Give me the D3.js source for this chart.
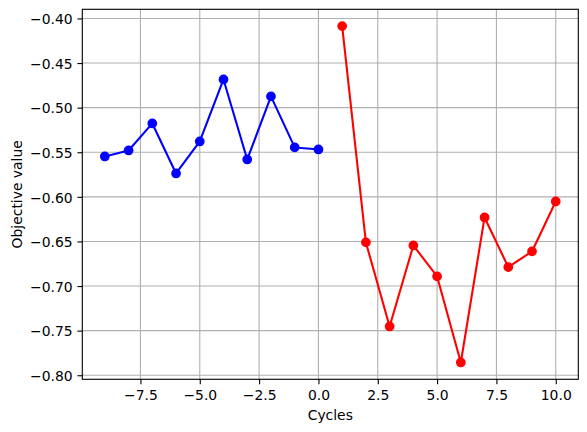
<!DOCTYPE html>
<html><head><meta charset="utf-8">
<script src="https://cdn.jsdelivr.net/npm/d3@7"></script>
<style>body{margin:0;background:#fff}svg{display:block}text{font-family:"DejaVu Sans",sans-serif;fill:#000}</style>
</head><body>
<script>
const blueX = [-9,-8,-7,-6,-5,-4,-3,-2,-1,0];
const blueY = [-0.5547,-0.548,-0.5177,-0.5738,-0.5379,-0.4684,-0.5581,-0.4874,-0.5446,-0.5469];
const redX = [1,2,3,4,5,6,7,8,9,10];
const redY = [-0.4086,-0.6511,-0.7453,-0.6545,-0.6892,-0.7857,-0.6231,-0.6788,-0.6612,-0.6052];
const xTicks = [-7.5,-5.0,-2.5,0.0,2.5,5.0,7.5,10.0];
const yTicks = [-0.40,-0.45,-0.50,-0.55,-0.60,-0.65,-0.70,-0.75,-0.80];
const xLabel = "Cycles", yLabel = "Objective value";

const W=587,H=432, L=82.3, R=578.3, T=9.3, B=379.3;
const fs = 13.9;
const svg = d3.select("body").append("svg").attr("width",W).attr("height",H);
const allX = blueX.concat(redX), allY = blueY.concat(redY);
const xe = d3.extent(allX), ye = d3.extent(allY);
const xm = (xe[1]-xe[0])*0.05, ym = (ye[1]-ye[0])*0.05;
const x = d3.scaleLinear().domain([xe[0]-xm, xe[1]+xm]).range([L,R]);
const y = d3.scaleLinear().domain([ye[0]-ym, ye[1]+ym]).range([B,T]);
const fmtMinus = s => s.replace("-","\u2212");

// grid
const g = svg.append("g");
g.selectAll(".gx").data(xTicks).enter().append("line")
 .attr("x1",d=>x(d)).attr("x2",d=>x(d)).attr("y1",T).attr("y2",B)
 .attr("stroke","#b0b0b0").attr("stroke-width",1.11);
g.selectAll(".gy").data(yTicks).enter().append("line")
 .attr("y1",d=>y(d)).attr("y2",d=>y(d)).attr("x1",L).attr("x2",R)
 .attr("stroke","#b0b0b0").attr("stroke-width",1.11);

// axes via d3
const xAxis = d3.axisBottom(x).tickValues(xTicks).tickSize(4.86).tickPadding(4.86)
  .tickFormat(d=>fmtMinus(d3.format(".1f")(d)));
const yAxis = d3.axisLeft(y).tickValues(yTicks).tickSize(4.86).tickPadding(4.86)
  .tickFormat(d=>fmtMinus(d3.format(".2f")(d)));
const gx = svg.append("g").attr("transform",`translate(0,${B})`).call(xAxis);
const gy = svg.append("g").attr("transform",`translate(${L},0)`).call(yAxis);
[gx,gy].forEach(a=>{
  a.select(".domain").remove();
  a.selectAll("line").attr("stroke","#000").attr("stroke-width",1.11);
  a.selectAll("text").attr("font-size",fs).attr("font-family","DejaVu Sans");
});
gx.selectAll("text").attr("dy",null).attr("y",20.7);
gy.selectAll("text").attr("dy",null).attr("y",5.3);
gx.attr("font-size",fs); gy.attr("font-size",fs);

// series
function series(xs, ys, color){
  const pts = xs.map((v,i)=>[v,ys[i]]);
  svg.append("path").datum(pts)
   .attr("d", d3.line().x(d=>x(d[0])).y(d=>y(d[1])))
   .attr("fill","none").attr("stroke",color).attr("stroke-width",2.08)
   .attr("stroke-linejoin","round").attr("stroke-linecap","square");
  svg.append("g").selectAll("circle").data(pts).enter().append("circle")
   .attr("cx",d=>x(d[0])).attr("cy",d=>y(d[1])).attr("r",4.17)
   .attr("fill",color).attr("stroke",color).attr("stroke-width",1.39);
}
series(blueX, blueY, "#0000ff");
series(redX, redY, "#ff0000");

// frame
svg.append("rect").attr("x",L).attr("y",T).attr("width",R-L).attr("height",B-T)
 .attr("fill","none").attr("stroke","#000").attr("stroke-width",1.11);

// labels
svg.append("text").attr("x",(L+R)/2).attr("y",420).attr("text-anchor","middle")
 .attr("font-size",fs).text(xLabel);
svg.append("text").attr("transform",`translate(21.5,${(T+B)/2}) rotate(-90)`)
 .attr("text-anchor","middle").attr("font-size",fs).text(yLabel);
</script>
</body></html>
